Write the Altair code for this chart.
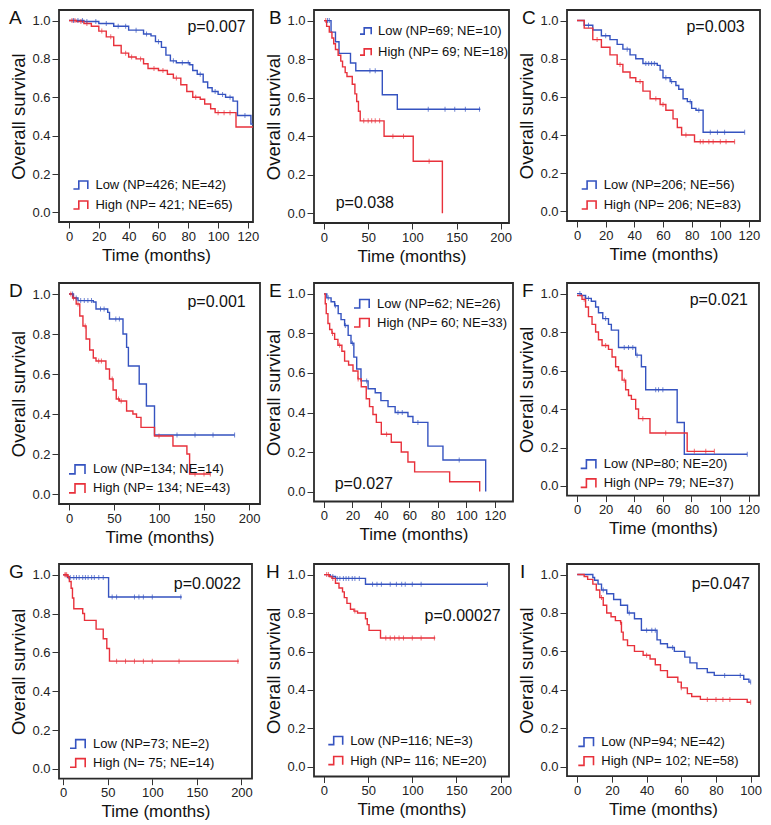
import altair as alt
import pandas as pd
import numpy as np

FONT = "Liberation Sans"
BLUE = "#3553c0"
RED = "#e8313b"
SYMBOL = "M-1,0.45H-0.4V-0.45H0.6V0.45"

# ---------------- data ----------------
A_low_t = [0, 10, 20, 30, 40, 50, 55, 58, 62, 65, 68, 72, 81, 83, 86, 90, 93, 96, 100, 105, 110, 113, 122, 126]
A_low_s = [1.0, 0.995, 0.985, 0.97, 0.95, 0.93, 0.92, 0.89, 0.86, 0.82, 0.79, 0.78, 0.77, 0.74, 0.72, 0.68, 0.65, 0.63, 0.615, 0.60, 0.58, 0.505, 0.46, 0.46]
A_high_t = [0, 5, 10, 15, 20, 25, 30, 35, 40, 45, 50, 53, 60, 66, 70, 75, 79, 83, 88, 91, 95, 98, 112, 126]
A_high_s = [1.0, 0.995, 0.985, 0.97, 0.945, 0.915, 0.87, 0.83, 0.81, 0.80, 0.775, 0.75, 0.74, 0.72, 0.70, 0.665, 0.63, 0.60, 0.59, 0.565, 0.54, 0.52, 0.445, 0.445]
A_low_c = [3, 6, 9, 12, 18, 25, 33, 38, 45, 52, 60, 70, 76, 80, 88, 98, 103, 108, 118]
A_high_c = [2, 4, 8, 12, 22, 28, 38, 42, 48, 57, 63, 72, 85, 100, 104, 108]
A_labels = ["Low (NP=426; NE=42)", "High (NP= 421; NE=65)"]
A_p = "p=0.007"

B_low_t = [0, 8, 13, 17, 30, 36, 66, 83, 177]
B_low_s = [1.0, 0.94, 0.89, 0.83, 0.78, 0.74, 0.615, 0.54, 0.54]
B_high_t = [0, 3, 6, 9, 11, 13, 16, 19, 21, 24, 26, 32, 35, 37, 39, 41, 68, 101, 134]
B_high_s = [1.0, 0.97, 0.94, 0.91, 0.88, 0.85, 0.82, 0.79, 0.76, 0.73, 0.71, 0.67, 0.62, 0.58, 0.53, 0.48, 0.40, 0.27, 0.0]
B_low_c = [4, 6, 52, 58, 118, 137, 148, 160, 176]
B_high_c = [2, 45, 50, 54, 58, 63, 78, 90, 119]
B_labels = ["Low (NP=69; NE=10)", "High (NP= 69; NE=18)"]
B_p = "p=0.038"

C_low_t = [0, 5, 11, 17, 23, 28, 32, 37, 41, 46, 56, 58, 60, 65, 69, 71, 74, 77, 80, 83, 88, 117]
C_low_s = [1.0, 0.975, 0.95, 0.92, 0.90, 0.875, 0.85, 0.82, 0.80, 0.775, 0.765, 0.74, 0.70, 0.68, 0.66, 0.64, 0.59, 0.575, 0.54, 0.53, 0.415, 0.415]
C_high_t = [0, 5, 11, 17, 23, 28, 32, 37, 41, 46, 51, 58, 62, 67, 70, 73, 82, 110]
C_high_s = [1.0, 0.96, 0.90, 0.86, 0.82, 0.77, 0.73, 0.70, 0.68, 0.63, 0.59, 0.56, 0.53, 0.485, 0.44, 0.40, 0.365, 0.365]
C_low_c = [8, 20, 35, 48, 50, 52, 54, 62, 66, 79, 85, 93, 98, 103, 117]
C_high_c = [14, 30, 44, 55, 60, 76, 86, 88, 92, 95, 100, 104, 110]
C_labels = ["Low (NP=206; NE=56)", "High (NP= 206; NE=83)"]
C_p = "p=0.003"

D_low_t = [0, 5, 10, 27, 30, 43, 45, 60, 64, 66, 78, 86, 95, 184]
D_low_s = [1.0, 0.98, 0.967, 0.96, 0.925, 0.908, 0.875, 0.80, 0.733, 0.64, 0.55, 0.44, 0.295, 0.295]
D_high_t = [0, 4, 8, 12, 15.5, 19, 23, 27, 30, 41, 45, 49, 52.5, 56, 64, 71, 75, 80, 95, 115.5, 131, 134, 157]
D_high_s = [1.0, 0.98, 0.95, 0.89, 0.84, 0.775, 0.72, 0.68, 0.665, 0.625, 0.575, 0.52, 0.475, 0.465, 0.415, 0.40, 0.383, 0.333, 0.29, 0.24, 0.20, 0.10, 0.10]
D_low_c = [4, 8, 13, 17, 21, 25, 35, 39, 52, 56, 120, 140, 160, 184]
D_high_c = [2, 5, 10, 18, 33, 36, 48, 55, 58, 100, 140, 150, 157]
D_labels = ["Low (NP=134; NE=14)", "High (NP= 134; NE=43)"]
D_p = "p=0.001"

E_low_t = [0, 2, 5, 7.5, 10, 12, 14.5, 17, 19, 21, 23, 26, 31, 36, 40, 45, 50, 59, 62.5, 73, 83.6, 113.6]
E_low_s = [1.0, 0.98, 0.96, 0.94, 0.90, 0.87, 0.84, 0.79, 0.75, 0.68, 0.62, 0.56, 0.52, 0.50, 0.46, 0.43, 0.40, 0.38, 0.35, 0.23, 0.16, 0.0]
E_high_t = [0, 0.9, 1.6, 2.8, 4, 5.6, 7.5, 9.8, 12.6, 14.5, 17.3, 20.4, 23.9, 26.2, 29.7, 32, 34.4, 36.8, 40.3, 47.3, 54.3, 59, 63.7, 88.3, 109.4]
E_high_s = [1.0, 0.95, 0.90, 0.85, 0.82, 0.80, 0.77, 0.74, 0.71, 0.66, 0.64, 0.61, 0.57, 0.53, 0.47, 0.43, 0.39, 0.35, 0.29, 0.25, 0.20, 0.15, 0.10, 0.05, 0.0]
E_low_c = [3, 8, 15, 20, 30, 52, 55, 66, 95]
E_high_c = [6, 11, 24, 44]
E_labels = ["Low (NP=62; NE=26)", "High (NP= 60; NE=33)"]
E_p = "p=0.027"

F_low_t = [0, 3, 6, 10, 13, 15, 18, 22, 24, 29, 41, 45, 48, 70, 75, 119]
F_low_s = [1.0, 0.99, 0.975, 0.96, 0.93, 0.90, 0.87, 0.84, 0.81, 0.72, 0.68, 0.62, 0.50, 0.33, 0.165, 0.165]
F_high_t = [0, 3.5, 6, 8, 10.5, 13, 15, 17.5, 22, 24.5, 27, 29, 31.5, 34, 36, 38, 41, 43, 51, 77, 96]
F_high_s = [0.99, 0.97, 0.93, 0.88, 0.84, 0.80, 0.76, 0.73, 0.71, 0.67, 0.62, 0.60, 0.55, 0.50, 0.47, 0.45, 0.40, 0.35, 0.275, 0.18, 0.18]
F_low_c = [2, 8, 20, 33, 36, 39, 42, 55, 57, 60, 119]
F_high_c = [5, 20, 33, 46, 62, 82, 90, 96]
F_labels = ["Low (NP=80; NE=20)", "High (NP= 79; NE=37)"]
F_p = "p=0.021"

G_low_t = [0, 5, 51, 133]
G_low_s = [1.0, 0.985, 0.885, 0.885]
G_high_t = [0, 5, 7, 9, 10.5, 12, 22, 24, 37, 45, 49, 52, 197]
G_high_s = [1.0, 0.99, 0.965, 0.93, 0.88, 0.825, 0.80, 0.765, 0.72, 0.67, 0.62, 0.555, 0.555]
G_low_c = [8, 12, 15, 18, 22, 25, 28, 32, 35, 40, 45, 55, 60, 80, 85, 90, 100, 132]
G_high_c = [2, 3, 4, 6, 60, 70, 80, 90, 100, 130, 196]
G_labels = ["Low (NP=73; NE=2)", "High (N= 75; NE=14)"]
G_p = "p=0.0022"

H_low_t = [0, 7, 13, 47, 185]
H_low_s = [1.0, 0.99, 0.98, 0.95, 0.95]
H_high_t = [0, 6, 9, 13, 17, 21, 23, 26, 30, 34, 38, 47, 49, 51, 64, 126]
H_high_s = [1.0, 0.99, 0.98, 0.955, 0.93, 0.91, 0.88, 0.85, 0.82, 0.81, 0.80, 0.77, 0.74, 0.71, 0.67, 0.67]
H_low_c = [10, 15, 18, 22, 25, 28, 32, 35, 40, 55, 60, 65, 75, 82, 88, 92, 100, 110, 185]
H_high_c = [3, 5, 10, 35, 70, 75, 80, 85, 90, 100, 110, 125]
H_labels = ["Low (NP=116; NE=3)", "High (NP= 116; NE=20)"]
H_p = "p=0.00027"

I_low_t = [0, 9, 10, 12, 14, 17, 21, 25, 29, 33, 37, 46, 48, 52, 56, 62, 65, 69, 75, 79, 96, 99, 100]
I_low_s = [1.0, 0.985, 0.97, 0.95, 0.92, 0.90, 0.87, 0.84, 0.80, 0.77, 0.71, 0.66, 0.64, 0.62, 0.60, 0.57, 0.54, 0.51, 0.49, 0.475, 0.455, 0.44, 0.44]
I_high_t = [0, 4, 6, 9, 11, 13, 15, 17, 19.5, 22, 25, 25.5, 26.5, 29, 33, 38, 42, 45, 48, 52, 58, 60, 63.5, 66, 71, 98, 100]
I_high_s = [1.0, 0.99, 0.975, 0.95, 0.92, 0.88, 0.84, 0.80, 0.78, 0.76, 0.75, 0.70, 0.66, 0.63, 0.60, 0.58, 0.56, 0.53, 0.50, 0.465, 0.44, 0.41, 0.38, 0.365, 0.35, 0.335, 0.335]
I_low_c = [15, 30, 40, 43, 45, 55, 85, 94, 100]
I_high_c = [14, 25, 40, 60, 75, 80, 84, 88, 100]
I_labels = ["Low (NP=94; NE=42)", "High (NP= 102; NE=58)"]
I_p = "p=0.047"

Y_TICKS = [0.0, 0.2, 0.4, 0.6, 0.8, 1.0]
TICKS_120 = [0, 20, 40, 60, 80, 100, 120]
TICKS_200 = [0, 50, 100, 150, 200]
TICKS_100 = [0, 20, 40, 60, 80, 100]

# ---------------- layout (positions / sizes only) ----------------
LAYOUT = {
    "A": dict(w=194, h=212, xdom=[-6.7, 123.4], xt=TICKS_120, lx=-50, lgx=13.4, lgy=165, ss=324, rp=2, px=186.7, py=17.3, pal="right"),
    "B": dict(w=195, h=213, xdom=[-11.3, 209.4], xt=TICKS_200, lx=-45, lgx=45, lgy=13, ss=196, rp=6, px=21.7, py=193.3, pal="left"),
    "C": dict(w=193, h=211, xdom=[-7.0, 127.7], xt=TICKS_120, lx=-45, lgx=13.7, lgy=165, ss=324, rp=2, px=177.7, py=17.2, pal="right"),
    "D": dict(w=201, h=221, xdom=[-11.1, 212.2], xt=TICKS_200, lx=-50, lgx=9, lgy=175.4, ss=400, rp=0, px=186.7, py=19.4, pal="right"),
    "E": dict(w=199, h=218.5, xdom=[-7.0, 132.8], xt=TICKS_120, lx=-45, lgx=39, lgy=10.3, ss=361, rp=1, px=20.7, py=200.9, pal="left"),
    "F": dict(w=192, h=212.6, xdom=[-7.0, 127.2], xt=TICKS_120, lx=-45, lgx=12.7, lgy=170.6, ss=361, rp=1, px=181, py=17.3, pal="right"),
    "G": dict(w=193, h=214.7, xdom=[-4.6, 211.8], xt=TICKS_200, lx=-50, lgx=10, lgy=169.4, ss=361, rp=1, px=182, py=20, pal="right"),
    "H": dict(w=195, h=212.5, xdom=[-11.3, 209.5], xt=TICKS_200, lx=-48, lgx=13.3, lgy=166.6, ss=324, rp=2, px=186.7, py=52.3, pal="right"),
    "I": dict(w=192, h=212.2, xdom=[-5.9, 104.8], xt=TICKS_100, lx=-47, lgx=10.3, lgy=167.6, ss=361, rp=1, px=183, py=19.9, pal="right"),
}


def step_value(ts, ss, c):
    i = int(np.searchsorted(np.asarray(ts, dtype=float), c, side="right")) - 1
    return ss[max(i, 0)]


def panel(letter, low_t, low_s, high_t, high_s, low_c, high_c, labels, pval):
    L = LAYOUT[letter]
    low_lab, high_lab = labels
    curves = pd.concat([
        pd.DataFrame({"t": low_t, "s": low_s, "g": low_lab}),
        pd.DataFrame({"t": high_t, "s": high_s, "g": high_lab}),
    ], ignore_index=True)
    cens_low = pd.DataFrame({"t": low_c, "s": [step_value(low_t, low_s, c) for c in low_c]})
    cens_high = pd.DataFrame({"t": high_c, "s": [step_value(high_t, high_s, c) for c in high_c]})

    X = alt.X("t:Q", scale=alt.Scale(domain=L["xdom"], nice=False, zero=False),
              axis=alt.Axis(values=L["xt"], format="d", title="Time (months)"))
    Y = alt.Y("s:Q", scale=alt.Scale(domain=[-0.05, 1.055], nice=False, zero=False),
              axis=alt.Axis(values=Y_TICKS, format=".1f", title="Overall survival"))

    legend = alt.Legend(title=None, orient="none", legendX=L["lgx"], legendY=L["lgy"],
                        symbolType=SYMBOL, symbolSize=L["ss"], symbolStrokeWidth=1.6,
                        symbolFillColor="transparent",
                        labelFont=FONT, labelFontSize=13, labelColor="#111",
                        rowPadding=L["rp"], padding=0, labelOffset=3)
    lines = alt.Chart(curves).mark_line(interpolate="step-after", strokeWidth=1.4, clip=True).encode(
        x=X, y=Y,
        color=alt.Color("g:N", scale=alt.Scale(domain=[low_lab, high_lab], range=[BLUE, RED]), legend=legend),
    )
    tl = alt.Chart(cens_low).mark_tick(orient="vertical", size=5, thickness=1, clip=True, color=BLUE).encode(x=X, y=Y)
    th = alt.Chart(cens_high).mark_tick(orient="vertical", size=5, thickness=1, clip=True, color=RED).encode(x=X, y=Y)
    ptxt = alt.Chart(pd.DataFrame({"txt": [pval]})).mark_text(
        font=FONT, fontSize=16, align=L["pal"], baseline="middle", color="#111"
    ).encode(text="txt:N", x=alt.value(L["px"]), y=alt.value(L["py"]))
    ltxt = alt.Chart(pd.DataFrame({"txt": [letter]})).mark_text(
        font=FONT, fontSize=19, align="left", baseline="top", color="#111"
    ).encode(text="txt:N", x=alt.value(L["lx"]), y=alt.value(-1))
    return alt.layer(lines, tl, th, ptxt, ltxt).properties(width=L["w"], height=L["h"])


pA = panel("A", A_low_t, A_low_s, A_high_t, A_high_s, A_low_c, A_high_c, A_labels, A_p)
pB = panel("B", B_low_t, B_low_s, B_high_t, B_high_s, B_low_c, B_high_c, B_labels, B_p)
pC = panel("C", C_low_t, C_low_s, C_high_t, C_high_s, C_low_c, C_high_c, C_labels, C_p)
pD = panel("D", D_low_t, D_low_s, D_high_t, D_high_s, D_low_c, D_high_c, D_labels, D_p)
pE = panel("E", E_low_t, E_low_s, E_high_t, E_high_s, E_low_c, E_high_c, E_labels, E_p)
pF = panel("F", F_low_t, F_low_s, F_high_t, F_high_s, F_low_c, F_high_c, F_labels, F_p)
pG = panel("G", G_low_t, G_low_s, G_high_t, G_high_s, G_low_c, G_high_c, G_labels, G_p)
pH = panel("H", H_low_t, H_low_s, H_high_t, H_high_s, H_low_c, H_high_c, H_labels, H_p)
pI = panel("I", I_low_t, I_low_s, I_high_t, I_high_s, I_low_c, I_high_c, I_labels, I_p)

chart = alt.concat(
    pA, pB, pC, pD, pE, pF, pG, pH, pI,
    columns=3, bounds="flush", align="each",
    spacing=alt.RowColnumber(row=60, column=54),
).resolve_scale(color="independent").resolve_legend(color="independent").properties(
    padding=0, background="white")

chart = chart.configure_view(stroke="#2a2a2a", strokeWidth=1.8).configure_axis(
    domain=False, grid=False, tickColor="#333", tickWidth=1,
    labelFont=FONT, labelFontSize=13, labelColor="#222", labelFlush=False, labelOverlap=False,
    titleFont=FONT, titleFontWeight="normal", titleColor="#111",
).configure_axisX(tickSize=6, labelPadding=2, titlePadding=4, titleFontSize=17).configure_axisY(
    tickSize=7, labelPadding=2, titlePadding=3, titleFontSize=18.5)

chart.save("out.html", embed_options={"renderer": "svg", "actions": False})
